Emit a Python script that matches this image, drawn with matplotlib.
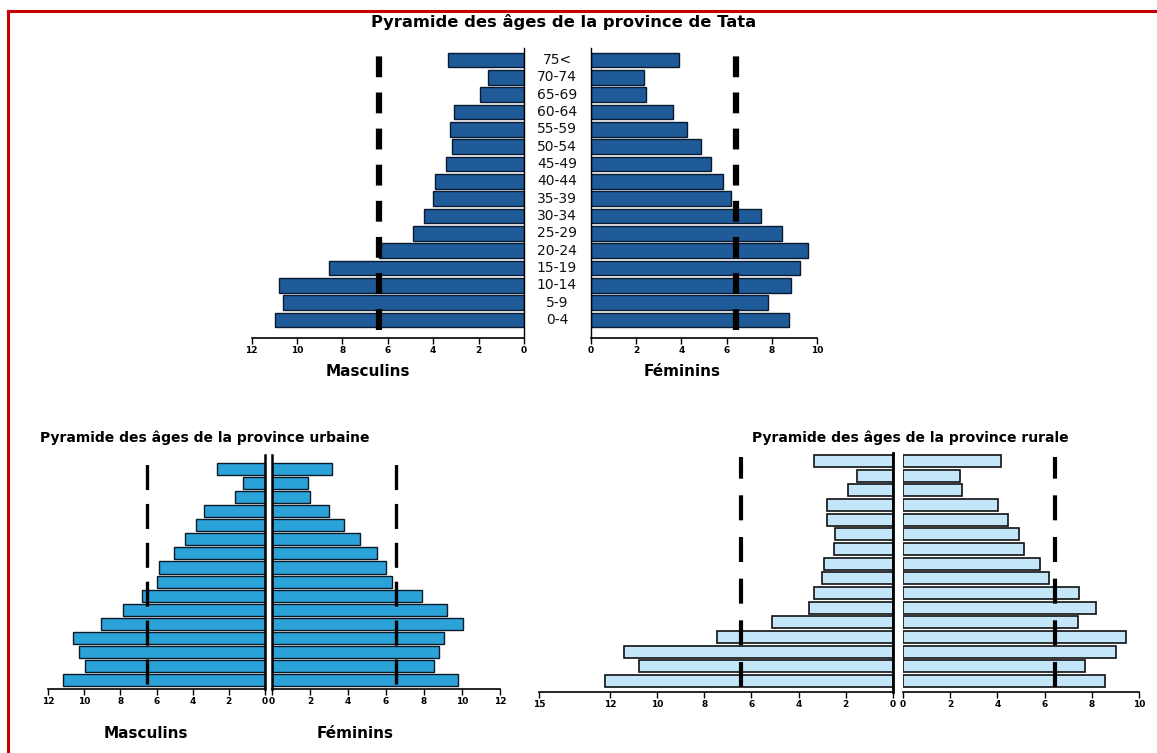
import matplotlib
matplotlib.use("Agg")
import matplotlib.pyplot as plt
from matplotlib.lines import Line2D
from matplotlib.transforms import blended_transform_factory

plt.rcParams['font.family'] = ['DejaVu Sans']
plt.rcParams['lines.scale_dashes'] = False

# ---------------- data ----------------
age_groups = ["0-4", "5-9", "10-14", "15-19", "20-24", "25-29", "30-34", "35-39",
              "40-44", "45-49", "50-54", "55-59", "60-64", "65-69", "70-74", "75<"]

tata_male = [10.95, 10.6, 10.8, 8.6, 6.4, 4.9, 4.42, 4.0, 3.92, 3.44, 3.19, 3.27, 3.07, 1.93, 1.6, 3.36]
tata_female = [8.78, 7.85, 8.86, 9.24, 9.58, 8.44, 7.54, 6.19, 5.85, 5.29, 4.88, 4.24, 3.64, 2.42, 2.34, 3.9]
tata_ref_male = 6.4
tata_ref_female = 6.4

urban_male = [11.2, 9.95, 10.3, 10.6, 9.06, 7.83, 6.78, 5.98, 5.86, 5.06, 4.4, 3.8, 3.4, 1.66, 1.23, 2.67]
urban_female = [9.8, 8.55, 8.77, 9.05, 10.05, 9.2, 7.9, 6.3, 6.0, 5.53, 4.65, 3.77, 2.98, 2.0, 1.9, 3.16]
urban_ref = 6.5

rural_male = [12.2, 10.75, 11.38, 7.44, 5.14, 3.56, 3.33, 3.02, 2.94, 2.52, 2.46, 2.8, 2.8, 1.9, 1.53, 3.33]
rural_female = [8.58, 7.7, 9.04, 9.43, 7.4, 8.18, 7.45, 6.19, 5.8, 5.14, 4.93, 4.47, 4.03, 2.49, 2.41, 4.15]
rural_ref = 6.44

top_ticks_male = [12, 10, 8, 6, 4, 2, 0]
top_ticks_female = [0, 2, 4, 6, 8, 10]
urban_ticks = [12, 10, 8, 6, 4, 2, 0]
rural_ticks_male = [15, 12, 10, 8, 6, 4, 2, 0]
rural_ticks_female = [0, 2, 4, 6, 8, 10]

title_top = "Pyramide des âges de la province de Tata"
title_urban = "Pyramide des âges de la province urbaine"
title_rural = "Pyramide des âges de la province rurale"
lab_m = "Masculins"
lab_f = "Féminins"

# ---------------- figure ----------------
W, H = 1157, 753
fig = plt.figure(figsize=(W / 100, H / 100), dpi=100)
fig.patch.set_facecolor('white')


def add_ax(l, t, r, b):
    return fig.add_axes([l / W, 1 - b / H, (r - l) / W, (b - t) / H])


def fx(px):
    return px / W


def fy(py):
    return 1 - py / H


idx = list(range(len(age_groups)))


def style_axis(ax, side, ticks, ylim, xlim, spine_lw=1.0, tick_fs=6.5):
    ax.set_xlim(*xlim)
    ax.set_ylim(*ylim)
    ax.set_yticks([])
    ax.set_xticks(ticks)
    ax.set_xticklabels([str(t) for t in ticks], fontsize=tick_fs, fontweight='bold')
    ax.tick_params(axis='x', direction='out', length=4, width=1, pad=1.5)
    ax.spines['top'].set_visible(False)
    ax.spines['bottom'].set_linewidth(1.2)
    if side == 'male':
        ax.spines['left'].set_visible(False)
        ax.spines['right'].set_linewidth(spine_lw)
    else:
        ax.spines['right'].set_visible(False)
        ax.spines['left'].set_linewidth(spine_lw)
    ax.patch.set_alpha(0)


# ---------- Top: Tata ----------
c_top = '#1f5b98'
e_top = '#0a1a30'
ylim_top = (-1.04, 15.69)
axm = add_ax(524 - 12 * 22.7, 48, 524, 338)
axf = add_ax(591, 48, 591 + 10 * 22.6, 338)
axm.barh(idx, tata_male, height=0.84, color=c_top, edgecolor=e_top, linewidth=1.0, zorder=2)
axf.barh(idx, tata_female, height=0.84, color=c_top, edgecolor=e_top, linewidth=1.0, zorder=2)
style_axis(axm, 'male', top_ticks_male, ylim_top, (12, 0))
style_axis(axf, 'female', top_ticks_female, ylim_top, (0, 10))
axm.vlines(tata_ref_male, -0.55, 15.69, colors='black', linewidth=4.5,
           linestyles=(0, (15, 11)), zorder=3)
axf.vlines(tata_ref_female, -0.55, 15.69, colors='black', linewidth=4.5,
           linestyles=(0, (15, 11)), zorder=3)
tr = blended_transform_factory(fig.transFigure, axm.transData)
for i, g in zip(idx, age_groups):
    axm.text(fx(557), i, g, transform=tr, ha='center', va='center', fontsize=10,
             color='#111111', clip_on=False)
fig.text(fx(564), fy(22), title_top, ha='center', va='center', fontsize=11.8, fontweight='bold')
fig.text(fx(368), fy(371), lab_m, ha='center', va='center', fontsize=11, fontweight='bold')
fig.text(fx(682), fy(371), lab_f, ha='center', va='center', fontsize=11, fontweight='bold')

# ---------- Bottom left: urbaine ----------
c_urb = '#2ba2d8'
ylim_urb = (-0.64, 16.0)
aum = add_ax(265 - 12 * 18.08, 455, 265, 689)
auf = add_ax(272, 455, 272 + 12 * 19.0, 689)
aum.barh(idx, urban_male, height=0.86, color=c_urb, edgecolor='#0a1a28', linewidth=1.0, zorder=2)
auf.barh(idx, urban_female, height=0.86, color=c_urb, edgecolor='#0a1a28', linewidth=1.0, zorder=2)
style_axis(aum, 'male', urban_ticks, ylim_urb, (12, 0), spine_lw=1.8)
style_axis(auf, 'female', urban_ticks, ylim_urb, (0, 12), spine_lw=1.8)
aum.vlines(urban_ref, -0.3, 16.0, colors='black', linewidth=2.4,
           linestyles=(0, (18, 10)), zorder=3)
auf.vlines(urban_ref, -0.3, 16.0, colors='black', linewidth=2.4,
           linestyles=(0, (18, 10)), zorder=3)
fig.text(fx(40), fy(438), title_urban, ha='left', va='center', fontsize=10, fontweight='bold')
fig.text(fx(146), fy(733), lab_m, ha='center', va='center', fontsize=11, fontweight='bold')
fig.text(fx(355), fy(733), lab_f, ha='center', va='center', fontsize=11, fontweight='bold')

# ---------- Bottom right: rurale ----------
c_rur = '#c3e7f8'
ylim_rur = (-0.75, 15.55)
arm = add_ax(893 - 15 * 23.6, 453, 893, 692)
arf = add_ax(903, 453, 903 + 10 * 23.6, 692)
arm.barh(idx, rural_male, height=0.82, color=c_rur, edgecolor='#111111', linewidth=1.2, zorder=2)
arf.barh(idx, rural_female, height=0.82, color=c_rur, edgecolor='#111111', linewidth=1.2, zorder=2)
style_axis(arm, 'male', rural_ticks_male, ylim_rur, (15, 0), spine_lw=2.0)
style_axis(arf, 'female', rural_ticks_female, ylim_rur, (0, 10), spine_lw=0.0)
arm.vlines(rural_ref, -0.4, 15.3, colors='black', linewidth=3.0,
           linestyles=(0, (18, 12)), zorder=3)
arf.vlines(rural_ref, -0.4, 15.3, colors='black', linewidth=3.0,
           linestyles=(0, (18, 12)), zorder=3)
fig.text(fx(910), fy(438), title_rural, ha='center', va='center', fontsize=10, fontweight='bold')

# ---------- red frame ----------
fig.add_artist(Line2D([fx(8), fx(1157)], [fy(11), fy(11)], color='#c40000', linewidth=2.2))
fig.add_artist(Line2D([fx(8), fx(8)], [fy(11), fy(753)], color='#c40000', linewidth=2.2))

fig.savefig("out.png", dpi=100, facecolor='white')
